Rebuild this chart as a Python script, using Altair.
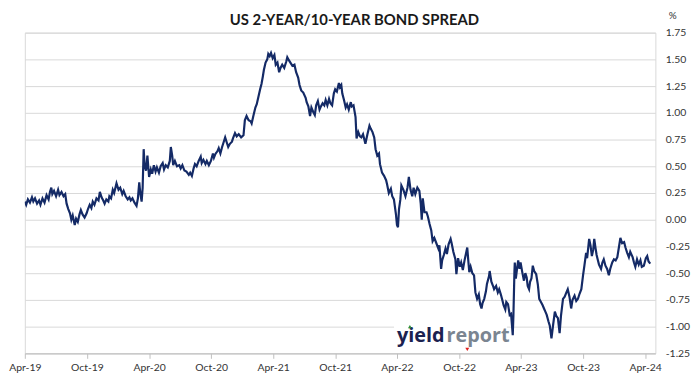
import altair as alt
import pandas as pd

dates = [
"2019-04-01","2019-04-05","2019-04-10","2019-04-16","2019-04-22","2019-04-26","2019-05-01","2019-05-07","2019-05-13","2019-05-17",
"2019-05-23","2019-05-29","2019-06-04","2019-06-10","2019-06-14","2019-06-18","2019-06-21","2019-06-26","2019-07-02","2019-07-08",
"2019-07-12","2019-07-18","2019-07-24","2019-07-29","2019-08-02","2019-08-07","2019-08-12","2019-08-16","2019-08-20","2019-08-26",
"2019-08-30","2019-09-04","2019-09-09","2019-09-13","2019-09-18","2019-09-24","2019-09-30","2019-10-04","2019-10-09","2019-10-14",
"2019-10-18","2019-10-23","2019-10-29","2019-11-04","2019-11-08","2019-11-13","2019-11-18","2019-11-22","2019-11-27","2019-12-03",
"2019-12-06","2019-12-11","2019-12-16","2019-12-20","2019-12-27","2020-01-02","2020-01-07","2020-01-13","2020-01-17","2020-01-23",
"2020-01-29","2020-02-03","2020-02-07","2020-02-12","2020-02-18","2020-02-24","2020-02-28","2020-03-03","2020-03-06","2020-03-10",
"2020-03-13","2020-03-16","2020-03-19","2020-03-23","2020-03-27","2020-04-01","2020-04-06","2020-04-10","2020-04-15","2020-04-20",
"2020-04-24","2020-04-30","2020-05-05","2020-05-11","2020-05-15","2020-05-20","2020-05-26","2020-06-01","2020-06-04","2020-06-08",
"2020-06-11","2020-06-16","2020-06-22","2020-06-29","2020-07-03","2020-07-08","2020-07-14","2020-07-20","2020-07-27","2020-07-31",
"2020-08-05","2020-08-10","2020-08-14","2020-08-19","2020-08-25","2020-08-31","2020-09-03","2020-09-08","2020-09-14","2020-09-18",
"2020-09-24","2020-09-30","2020-10-06","2020-10-09","2020-10-14","2020-10-19","2020-10-23","2020-10-28","2020-11-02","2020-11-06",
"2020-11-11","2020-11-16","2020-11-20","2020-11-25","2020-12-01","2020-12-04","2020-12-10","2020-12-15","2020-12-21","2020-12-28",
"2021-01-04","2021-01-08","2021-01-13","2021-01-19","2021-01-25","2021-01-28","2021-02-02","2021-02-08","2021-02-12","2021-02-17",
"2021-02-22","2021-02-26","2021-03-02","2021-03-05","2021-03-10","2021-03-15","2021-03-18","2021-03-22","2021-03-26","2021-03-31",
"2021-04-05","2021-04-09","2021-04-14","2021-04-19","2021-04-23","2021-04-28","2021-05-04","2021-05-10","2021-05-13","2021-05-18",
"2021-05-24","2021-05-28","2021-06-03","2021-06-08","2021-06-14","2021-06-18","2021-06-23","2021-06-29","2021-07-06","2021-07-09",
"2021-07-14","2021-07-19","2021-07-23","2021-07-28","2021-08-02","2021-08-06","2021-08-11","2021-08-16","2021-08-20","2021-08-25",
"2021-08-30","2021-09-03","2021-09-08","2021-09-13","2021-09-17","2021-09-22","2021-09-27","2021-10-01","2021-10-06","2021-10-12",
"2021-10-15","2021-10-19","2021-10-22","2021-10-27","2021-11-01","2021-11-05","2021-11-10","2021-11-16","2021-11-19","2021-11-24",
"2021-11-30","2021-12-03","2021-12-08","2021-12-13","2021-12-17","2021-12-22","2021-12-29","2022-01-04","2022-01-10","2022-01-14",
"2022-01-19","2022-01-24","2022-01-28","2022-02-02","2022-02-07","2022-02-10","2022-02-16","2022-02-22","2022-02-28","2022-03-03",
"2022-03-08","2022-03-14","2022-03-18","2022-03-23","2022-03-29","2022-04-01","2022-04-04","2022-04-07","2022-04-11","2022-04-14",
"2022-04-20","2022-04-26","2022-05-02","2022-05-06","2022-05-11","2022-05-16","2022-05-20","2022-05-25","2022-05-31","2022-06-06",
"2022-06-10","2022-06-13","2022-06-16","2022-06-21","2022-06-27","2022-07-01","2022-07-06","2022-07-11","2022-07-15","2022-07-20",
"2022-07-26","2022-08-01","2022-08-04","2022-08-09","2022-08-12","2022-08-17","2022-08-22","2022-08-26","2022-08-31","2022-09-06",
"2022-09-09","2022-09-14","2022-09-20","2022-09-23","2022-09-28","2022-10-03","2022-10-07","2022-10-12","2022-10-17","2022-10-21",
"2022-10-25","2022-10-28","2022-10-31","2022-11-04","2022-11-09","2022-11-14","2022-11-18","2022-11-23","2022-11-28","2022-12-02",
"2022-12-06","2022-12-09","2022-12-14","2022-12-19","2022-12-22","2022-12-28","2022-12-30","2023-01-04","2023-01-09","2023-01-12",
"2023-01-18","2023-01-23","2023-01-27","2023-02-01","2023-02-06","2023-02-09","2023-02-14","2023-02-17","2023-02-22","2023-02-27",
"2023-03-03","2023-03-08","2023-03-10","2023-03-13","2023-03-14","2023-03-17","2023-03-21","2023-03-24","2023-03-28","2023-03-31",
"2023-04-05","2023-04-10","2023-04-14","2023-04-18","2023-04-21","2023-04-25","2023-04-28","2023-05-02","2023-05-06","2023-05-10",
"2023-05-16","2023-05-21","2023-05-25","2023-05-30","2023-06-04","2023-06-08","2023-06-12","2023-06-16","2023-06-21","2023-06-25",
"2023-06-30","2023-07-05","2023-07-10","2023-07-14","2023-07-19","2023-07-24","2023-07-28","2023-08-03","2023-08-08","2023-08-13",
"2023-08-17","2023-08-22","2023-08-27","2023-08-31","2023-09-06","2023-09-11","2023-09-16","2023-09-21","2023-09-26","2023-10-01",
"2023-10-05","2023-10-10","2023-10-13","2023-10-17","2023-10-19","2023-10-23","2023-10-27","2023-10-31","2023-11-03","2023-11-07",
"2023-11-10","2023-11-13","2023-11-17","2023-11-23","2023-11-27","2023-12-01","2023-12-06","2023-12-11","2023-12-16","2023-12-20",
"2023-12-26","2023-12-31","2024-01-05","2024-01-10","2024-01-15","2024-01-19","2024-01-24","2024-01-30","2024-02-03","2024-02-08",
"2024-02-13","2024-02-17","2024-02-24","2024-02-28","2024-03-03","2024-03-08","2024-03-13","2024-03-18","2024-03-22","2024-03-28",
"2024-04-03","2024-04-07","2024-04-11","2024-04-16",
]

spread = [
0.17,0.14,0.19,0.16,0.21,0.17,0.20,0.15,0.18,0.14,
0.20,0.16,0.23,0.19,0.26,0.30,0.24,0.27,0.22,0.28,
0.23,0.26,0.22,0.24,0.15,0.10,0.06,0.00,0.04,-0.05,
0.01,-0.02,0.05,0.09,0.05,0.02,0.06,0.10,0.14,0.11,
0.17,0.14,0.20,0.18,0.26,0.21,0.18,0.15,0.19,0.17,
0.22,0.20,0.28,0.25,0.34,0.28,0.30,0.24,0.27,0.22,
0.19,0.21,0.18,0.20,0.16,0.13,0.20,0.35,0.25,0.17,
0.30,0.66,0.50,0.46,0.60,0.40,0.47,0.43,0.51,0.45,
0.49,0.44,0.50,0.53,0.47,0.51,0.49,0.55,0.68,0.60,
0.51,0.55,0.50,0.51,0.48,0.51,0.46,0.45,0.42,0.44,
0.41,0.48,0.52,0.50,0.55,0.59,0.53,0.56,0.52,0.55,
0.51,0.55,0.62,0.58,0.62,0.64,0.67,0.62,0.68,0.72,
0.77,0.72,0.68,0.71,0.73,0.76,0.81,0.78,0.80,0.77,
0.79,0.93,0.97,0.93,0.92,0.90,0.97,1.05,1.08,1.15,
1.22,1.27,1.34,1.40,1.47,1.50,1.55,1.53,1.56,1.51,
1.54,1.45,1.47,1.38,1.42,1.45,1.42,1.48,1.52,1.49,
1.46,1.44,1.45,1.38,1.33,1.26,1.21,1.19,1.14,1.10,
1.06,0.97,1.05,1.01,0.98,1.07,1.11,1.03,1.06,1.09,
1.07,1.12,1.07,1.13,1.09,1.07,1.18,1.22,1.20,1.28,
1.24,1.26,1.18,1.12,1.05,1.08,1.03,1.10,1.06,1.07,
0.96,0.76,0.82,0.78,0.77,0.80,0.71,0.80,0.88,0.85,
0.82,0.77,0.66,0.60,0.62,0.52,0.44,0.41,0.37,0.33,
0.25,0.29,0.22,0.19,0.05,-0.05,-0.07,0.10,0.19,0.32,
0.28,0.22,0.30,0.40,0.28,0.22,0.30,0.24,0.30,0.27,
0.15,0.00,0.20,0.07,0.07,0.03,-0.04,-0.10,-0.20,-0.17,
-0.22,-0.27,-0.24,-0.46,-0.38,-0.33,-0.27,-0.32,-0.23,-0.18,
-0.22,-0.30,-0.37,-0.51,-0.36,-0.44,-0.40,-0.47,-0.38,-0.32,
-0.26,-0.38,-0.49,-0.44,-0.50,-0.52,-0.68,-0.74,-0.70,-0.79,
-0.83,-0.78,-0.74,-0.67,-0.60,-0.53,-0.48,-0.58,-0.62,-0.65,
-0.62,-0.68,-0.65,-0.70,-0.76,-0.80,-0.84,-0.77,-0.79,-0.89,
-0.88,-1.08,-0.89,-0.48,-0.40,-0.55,-0.45,-0.38,-0.46,-0.40,
-0.49,-0.57,-0.50,-0.54,-0.62,-0.65,-0.58,-0.55,-0.43,-0.48,
-0.51,-0.61,-0.74,-0.77,-0.80,-0.83,-0.86,-0.89,-0.95,-0.99,
-1.11,-0.98,-0.86,-0.90,-0.92,-1.06,-0.90,-0.74,-0.72,-0.68,
-0.65,-0.72,-0.83,-0.75,-0.71,-0.76,-0.74,-0.69,-0.65,-0.52,
-0.43,-0.31,-0.36,-0.24,-0.18,-0.24,-0.34,-0.28,-0.18,-0.27,
-0.33,-0.37,-0.42,-0.46,-0.40,-0.37,-0.43,-0.46,-0.52,-0.46,
-0.40,-0.37,-0.38,-0.35,-0.25,-0.17,-0.22,-0.21,-0.26,-0.31,
-0.35,-0.30,-0.35,-0.40,-0.44,-0.37,-0.42,-0.38,-0.44,-0.43,
-0.36,-0.34,-0.39,-0.41,
]

x_ticks = ["2019-04-01","2019-10-01","2020-04-01","2020-10-01","2021-04-01","2021-10-01",
           "2022-04-01","2022-10-01","2023-04-01","2023-10-01","2024-04-01"]
x_domain = ["2019-04-01", "2024-05-01"]
y_ticks = [-1.25, -1.0, -0.75, -0.5, -0.25, 0.0, 0.25, 0.5, 0.75, 1.0, 1.25, 1.5, 1.75]

TITLE = "US 2-YEAR/10-YEAR BOND SPREAD"
NAVY = "#142a66"
FONT = "Lato"


def dt(s):
    y, m, d = (int(p) for p in s.split("-"))
    return alt.DateTime(year=y, month=m, date=d, utc=True)


df = pd.DataFrame({"date": dates, "spread": spread})

x_enc = alt.X(
    "date:T",
    scale=alt.Scale(type="utc", domain=[dt(s) for s in x_domain]),
    axis=alt.Axis(
        values=[dt(s) for s in x_ticks],
        labelExpr="utcFormat(datum.value, '%b-%y')",
        title=None, grid=False, domainColor="#bfbfbf", tickColor="#bfbfbf",
        tickSize=5, labelFont=FONT, labelFontSize=10.5, labelColor="#333333",
        labelPadding=4, labelFlush=False, labelOverlap=False,
    ),
)
y_enc = alt.Y(
    "spread:Q",
    scale=alt.Scale(domain=[-1.25, 1.75], nice=False, zero=False),
    axis=alt.Axis(
        orient="right", values=y_ticks,
        labelExpr="replace(format(datum.value, '.2f'), '\u2212', '-')",
        grid=True, gridColor="#d9d9d9", gridWidth=1, domain=False, ticks=False,
        labelFont=FONT, labelFontSize=10.5, labelColor="#333333",
        labelAlign="left", labelPadding=10,
        title="%", titleAngle=0, titleX=17, titleY=-17, titleAlign="center",
        titleBaseline="middle", titleFontWeight="normal", titleFontSize=10,
        titleFont=FONT, titleColor="#333333",
    ),
)

line = alt.Chart(df).mark_line(color=NAVY, strokeWidth=2.2, clip=True).encode(x=x_enc, y=y_enc)

one = alt.Data(values=[{"k": 1}])
title_mark = alt.Chart(one).mark_text(
    text=TITLE, font=FONT, fontSize=15, fontWeight="bold", color="#1a1a1a",
    align="center", baseline="alphabetic",
).encode(x=alt.value(333), y=alt.value(-8))
logo_bg = alt.Chart(one).mark_rect(color="white").encode(
    x=alt.value(373), x2=alt.value(487), y=alt.value(293), y2=alt.value(321)
)
logo_yield = alt.Chart(one).mark_text(
    text="yield", font="Open Sans", fontSize=20, fontWeight="bold", color="#1b2150",
    align="left", baseline="alphabetic",
).encode(x=alt.value(376), y=alt.value(313))
logo_report = alt.Chart(one).mark_text(
    text="report", font="Open Sans", fontSize=20, fontWeight="bold", color="#7b8591",
    align="left", baseline="alphabetic",
).encode(x=alt.value(426), y=alt.value(313))
tri_green = alt.Chart(one).mark_point(
    shape="triangle-up", filled=True, color="#2f8f3a", size=16, opacity=1
).encode(x=alt.value(389), y=alt.value(297))
tri_red = alt.Chart(one).mark_point(
    shape="triangle-down", filled=True, color="#e02020", size=16, opacity=1
).encode(x=alt.value(447), y=alt.value(320))

chart = alt.layer(line, title_mark, logo_bg, logo_yield, logo_report, tri_green, tri_red).properties(
    width=637, height=324,
    autosize=alt.AutoSizeParams(type="none"),
    padding={"left": 17, "top": 23, "right": 36, "bottom": 24},
).configure_view(stroke="#d9d9d9", strokeWidth=1)

chart.save("out.html", embed_options={"renderer": "svg", "actions": False})
